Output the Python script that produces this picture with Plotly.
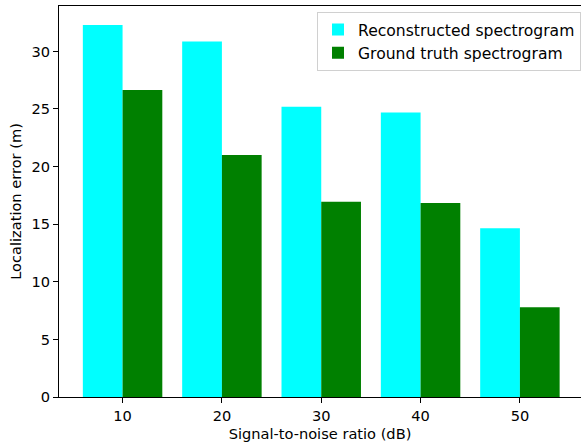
import plotly.graph_objects as go

snr_db = [10, 20, 30, 40, 50]
reconstructed = [32.3, 30.85, 25.2, 24.7, 14.65]
ground_truth = [26.65, 21.0, 16.95, 16.85, 7.8]
series_names = ["Reconstructed spectrogram", "Ground truth spectrogram"]
y_ticks = [0, 5, 10, 15, 20, 25, 30]

FONT = "DejaVu Sans"
FS = 14.6
fig = go.Figure()
fig.add_trace(go.Bar(x=snr_db, y=reconstructed, name=series_names[0],
                     width=4, offset=-4, marker=dict(color="#00FFFF", line=dict(width=0))))
fig.add_trace(go.Bar(x=snr_db, y=ground_truth, name=series_names[1],
                     width=4, offset=0, marker=dict(color="#008000", line=dict(width=0))))

fig.update_layout(
    width=581, height=445,
    margin=dict(l=59, r=0, t=6, b=48, autoexpand=False),
    paper_bgcolor="white", plot_bgcolor="white",
    barmode="overlay",
    font=dict(family=FONT, size=FS, color="black"),
    legend=dict(x=1.0, y=0.985, xanchor="right", yanchor="top",
                bgcolor="rgba(255,255,255,0.8)", bordercolor="#d0d0d0", borderwidth=1,
                font=dict(size=15.6), tracegroupgap=0, itemwidth=30),
    xaxis=dict(range=[3.6, 56.15], tickvals=snr_db, ticktext=[str(v) for v in snr_db],
               automargin=False,
               showgrid=False, zeroline=False, showline=True, linecolor="black", linewidth=1,
               mirror=True, ticks="outside", ticklen=5, tickwidth=1, tickcolor="black",
               title=dict(text="Signal-to-noise ratio (dB)", standoff=6, font=dict(size=FS))),
    yaxis=dict(range=[0, 33.94], tickvals=y_ticks, automargin=False,
               showgrid=False, zeroline=False, showline=True, linecolor="black", linewidth=1,
               ticks="outside", ticklen=5, tickwidth=1, tickcolor="black",
               title=dict(text="Localization error (m)", standoff=6, font=dict(size=FS))),
)
fig.write_html("out.html", config={"displayModeBar": False},
               post_script="document.body.style.margin='0';document.body.style.overflow='hidden';")
